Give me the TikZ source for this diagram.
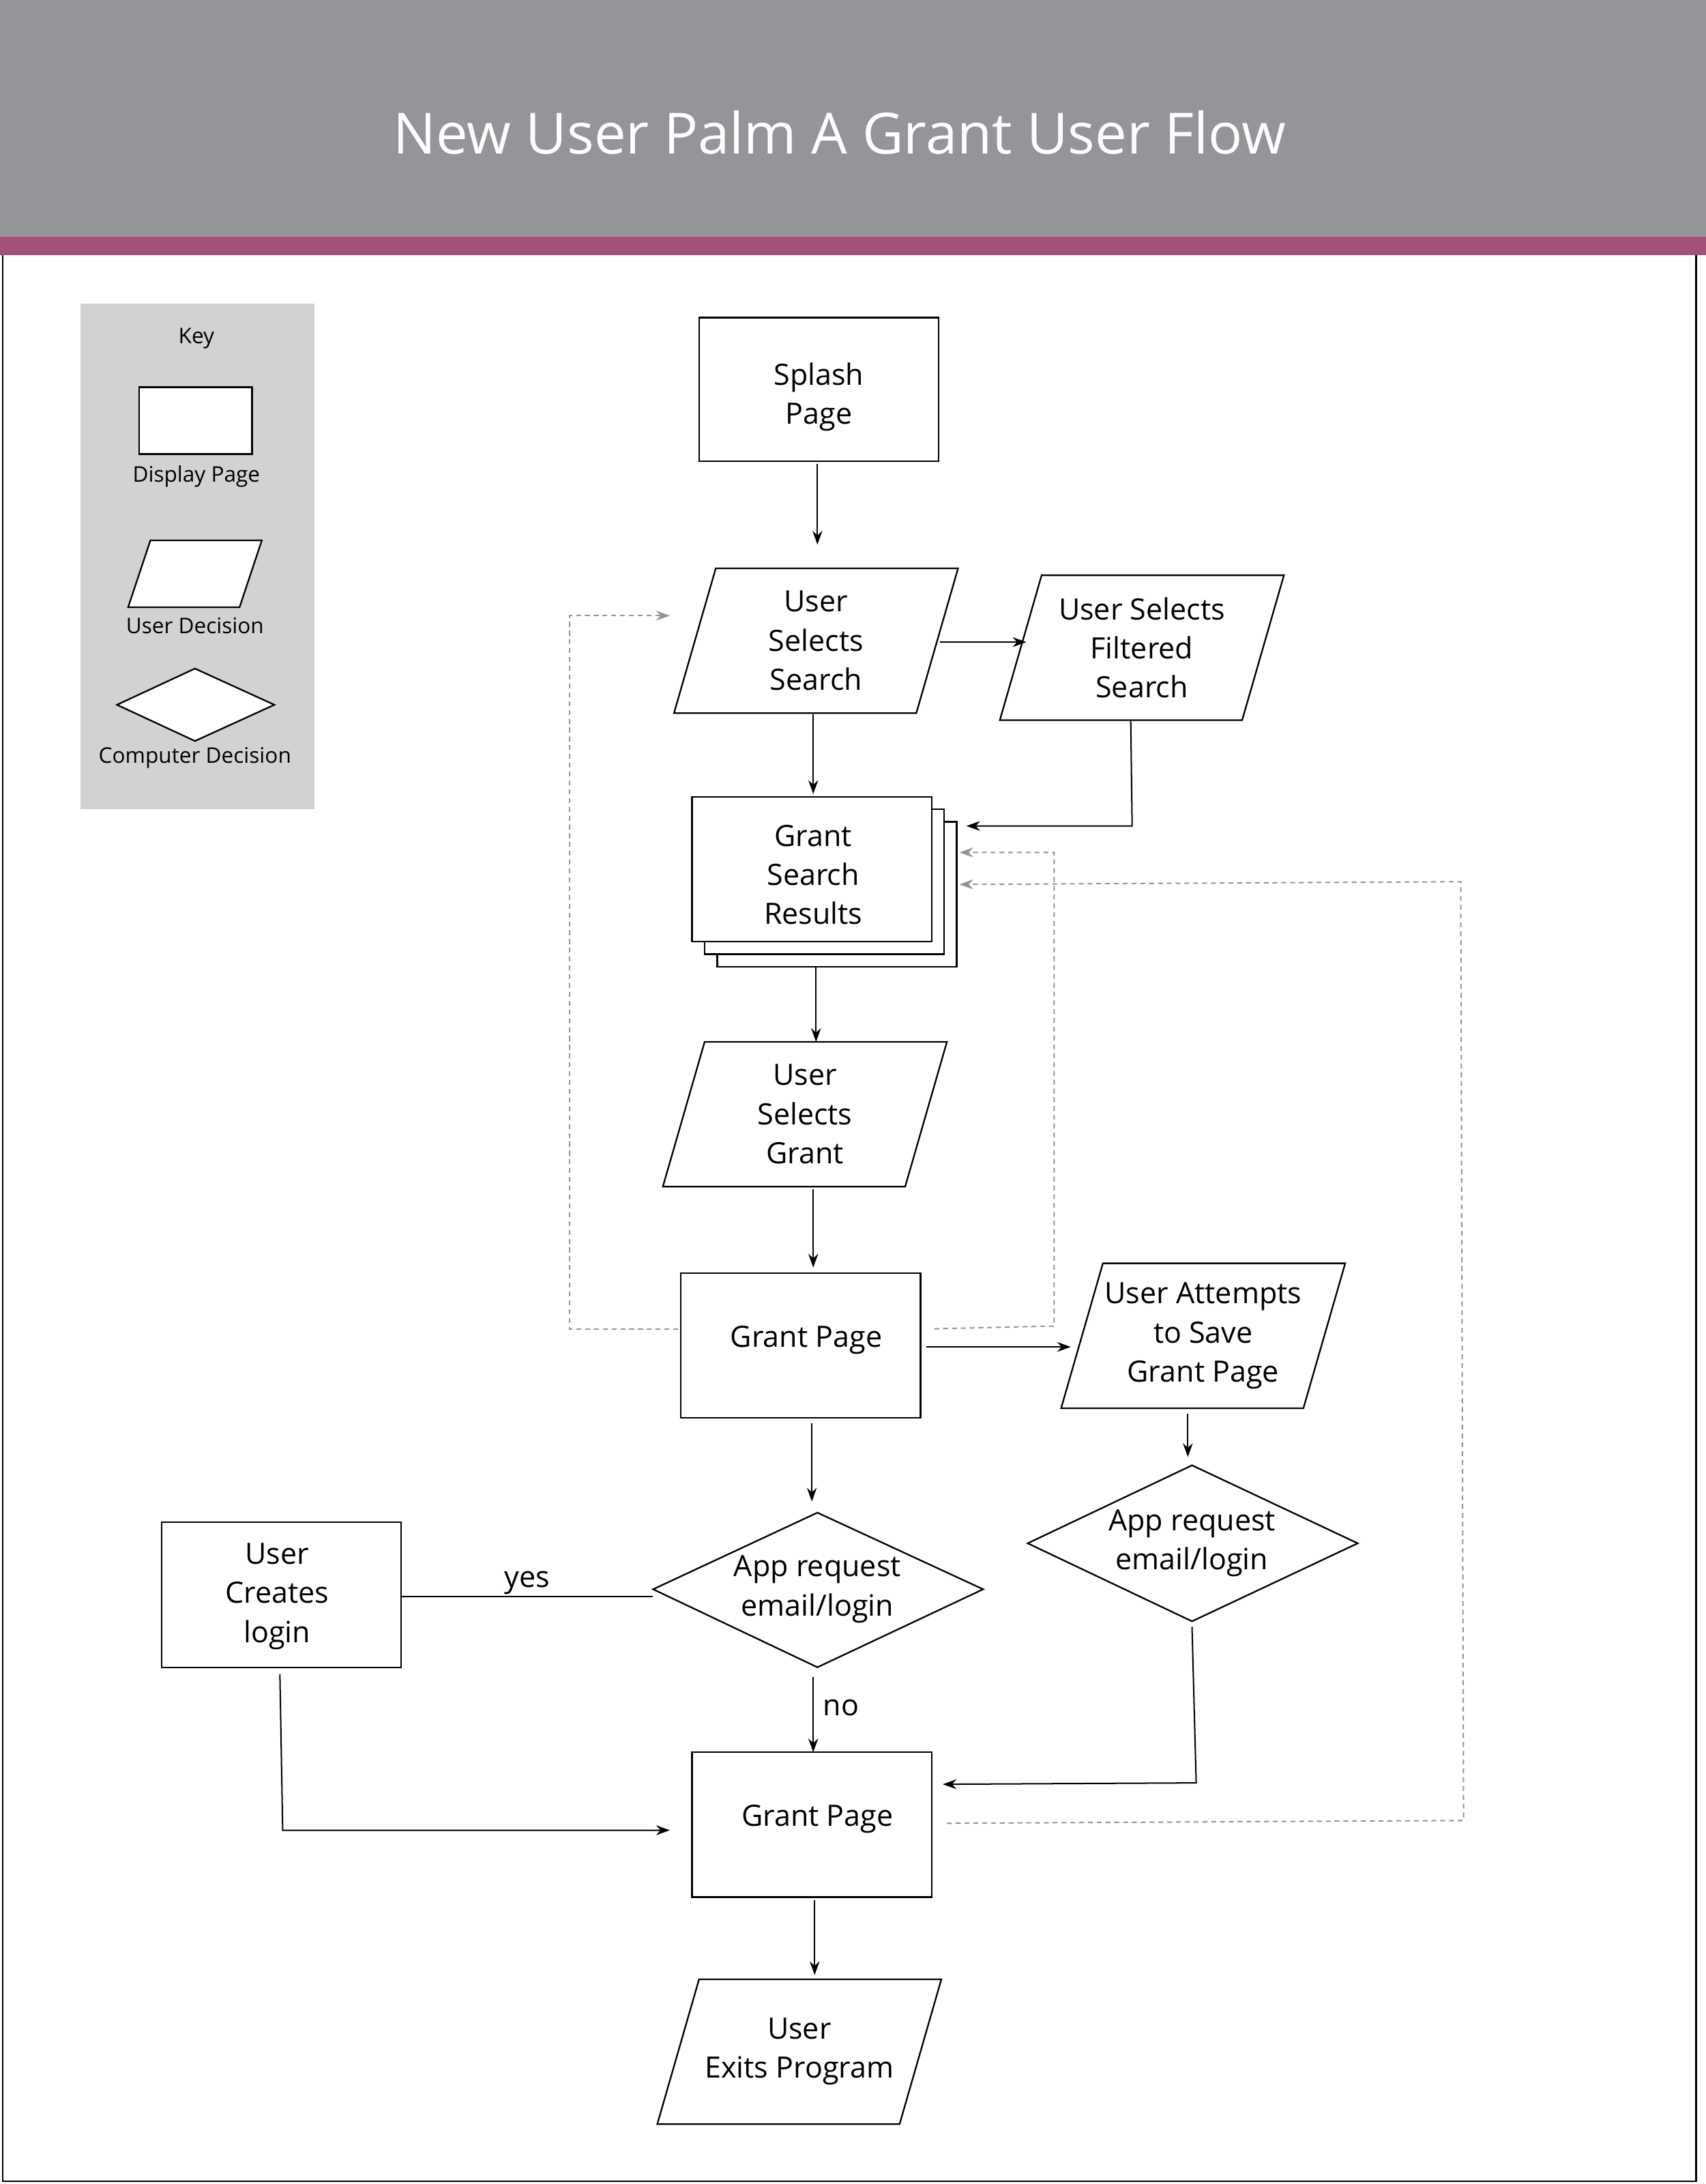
\documentclass[tikz,border=0pt]{standalone}
\usepackage{fontspec}
\setmainfont{Open Sans}
\usetikzlibrary{shapes.geometric,arrows.meta}
\definecolor{hdr}{HTML}{939598}
\definecolor{band}{HTML}{A5507A}
\definecolor{keyg}{HTML}{D1D2D4}
\begin{document}
\begin{tikzpicture}[x=0.5mm,y=-0.5mm,
  box/.style={draw,line width=1.6pt,fill=white},
  txt/.style={align=center,font=\fontsize{30}{40}\selectfont},
  ktxt/.style={font=\fontsize{22}{26}\selectfont},
  arr/.style={line width=1.4pt,-{Stealth[length=14pt,width=10pt]}},
  ln/.style={line width=1.4pt},
  dsh/.style={line width=1.4pt,hdr,dash pattern=on 5pt off 4pt,-{Stealth[length=14pt,width=10pt]}}]
\useasboundingbox (0,0) rectangle (1225,1568);
\fill[white] (0,0) rectangle (1225,1568);
\fill[hdr] (0,0) rectangle (1225,170);
\fill[band] (0,170) rectangle (1225,183);
\node[white,font=\fontsize{58}{60}\selectfont] (title) at (603,95) {New User Palm A Grant User Flow};
\draw[line width=1.6pt] (2,183) -- (2,1566) -- (1218,1566) -- (1218,183);
% key
\fill[keyg] (58,218) rectangle (226,581);
\node[ktxt] (key) at (141,243) {Key};
\draw[box] (100,278) rectangle (181,326);
\node[ktxt] (kd) at (141,342) {Display Page};
\draw[box] (108,388) -- (188,388) -- (172,436) -- (92,436) -- cycle;
\node[ktxt] (ku) at (140,449) {User Decision};
\draw[box] (84,506) -- (140,480) -- (197,506) -- (140,532) -- cycle;
\node[ktxt] (kc) at (140,544) {Computer Decision};
% nodes
\newcommand\pgram[4]{\draw[box] (#1+30,#2) -- (#1+204,#2) -- (#1+174,#2+104) -- (#1,#2+104) -- cycle;
  \node[txt] (#3) at (#1+102,#2+52) {#4};}
\draw[box] (502,228) rectangle (674,331); \node[txt] (splash) at (588,285) {Splash\\Page};
\pgram{484}{408}{uss}{User\\Selects\\Search}
\pgram{718}{413}{usf}{User Selects\\Filtered\\Search}
\draw[box] (515,590) rectangle (687,694);
\draw[box] (506,581) rectangle (678,685);
\draw[box] (497,572) rectangle (669,676); \node[txt] (gsr) at (584,628) {Grant\\Search\\Results};
\pgram{476}{748}{usg}{User\\Selects\\Grant}
\draw[box] (489,914) rectangle (661,1018); \node[txt] (gp1) at (579,962) {Grant Page};
\pgram{762}{907}{usa}{User Attempts\\to Save\\Grant Page}
\draw[box] (469,1141) -- (587,1086) -- (706,1141) -- (587,1197) -- cycle;
\node[txt] (d1) at (587,1141) {App request\\email/login};
\draw[box] (738,1108) -- (856,1052) -- (975,1108) -- (856,1164) -- cycle;
\node[txt] (d2) at (856,1108) {App request\\email/login};
\draw[box] (116,1093) rectangle (288,1197); \node[txt] (ucl) at (199,1146) {User\\Creates\\login};
\draw[box] (497,1258) rectangle (669,1362); \node[txt] (gp2) at (587,1306) {Grant Page};
\pgram{472}{1421}{uex}{User\\Exits Program}
% connectors
\coordinate (c1) at (587,333); \coordinate (c2) at (587,391);
\draw[arr] (c1) -- (c2);
\coordinate (c3) at (675,461); \coordinate (c4) at (737,461);
\draw[arr] (c3) -- (c4);
\coordinate (c5) at (584,513); \coordinate (c6) at (584,570);
\draw[arr] (c5) -- (c6);
\coordinate (c7) at (812,517); \coordinate (c8) at (694,593);
\draw[arr] (c7) -- (813,593) -- (c8);
\coordinate (c9) at (586,694); \coordinate (c10) at (586,748);
\draw[arr] (c9) -- (c10);
\coordinate (c11) at (584,854); \coordinate (c12) at (584,910);
\draw[arr] (c11) -- (c12);
\coordinate (c13) at (665,967); \coordinate (c14) at (769,967);
\draw[arr] (c13) -- (c14);
\coordinate (c15) at (853,1015); \coordinate (c16) at (853,1046);
\draw[arr] (c15) -- (c16);
\coordinate (c17) at (583,1022); \coordinate (c18) at (583,1078);
\draw[arr] (c17) -- (c18);
\coordinate (c19) at (469,1146); \coordinate (c20) at (288,1146);
\draw[ln] (c19) -- node[txt,above=-2pt,pos=0.5] (yes) {yes} (c20);
\coordinate (c21) at (584,1204); \coordinate (c22) at (584,1258);
\draw[arr] (c21) -- (c22);
\node[txt] (no) at (604,1226) {no};
\coordinate (c23) at (201,1202); \coordinate (c24) at (481,1314);
\draw[arr] (c23) -- (203,1314) -- (c24);
\coordinate (c25) at (856,1168); \coordinate (c26) at (677,1281);
\draw[arr] (c25) -- (859,1280) -- (c26);
\coordinate (c27) at (585,1364); \coordinate (c28) at (585,1418);
\draw[arr] (c27) -- (c28);
% dashed
\coordinate (e1) at (487,954); \coordinate (e2) at (481,442);
\draw[dsh] (e1) -- (409,954) -- (409,442) -- (e2);
\coordinate (e3) at (671,954); \coordinate (e4) at (689,612);
\draw[dsh] (e3) -- (757,952) -- (757,612) -- (e4);
\coordinate (e5) at (680,1309); \coordinate (e6) at (689,635);
\draw[dsh] (e5) -- (1051,1307) -- (1049,633) -- (e6);
\end{tikzpicture}
\end{document}
